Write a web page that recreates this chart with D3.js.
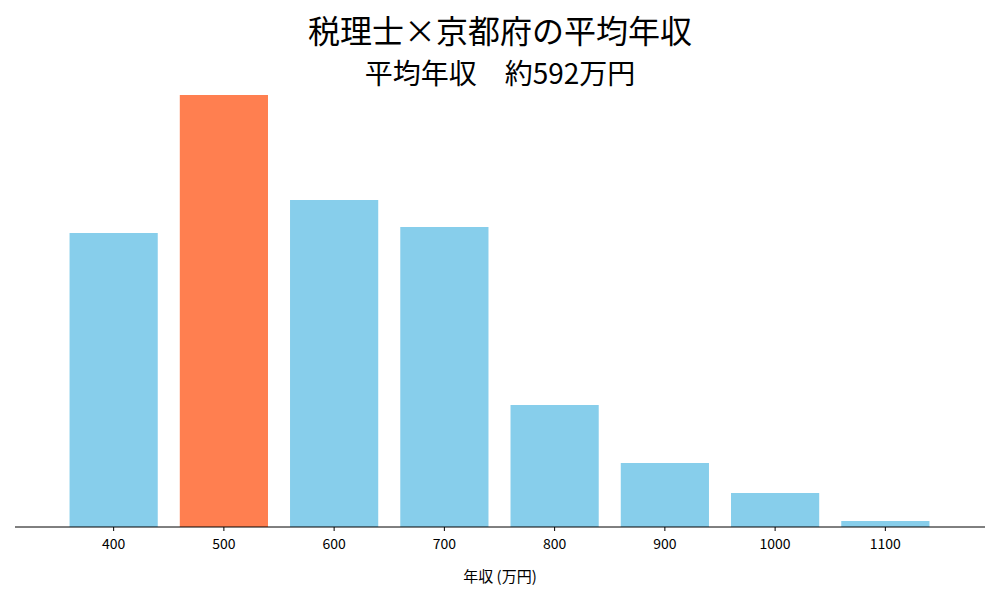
<!DOCTYPE html>
<html>
<head>
<meta charset="utf-8">
<script src="https://cdn.jsdelivr.net/npm/d3@7"></script>
<style>
  body { margin: 0; background: #fff; }
  text { font-family: "Noto Sans CJK JP", "Noto Sans", sans-serif; }
</style>
</head>
<body>
<svg id="chart" width="1000" height="600"></svg>
<script>
const categories = ["400", "500", "600", "700", "800", "900", "1000", "1100"];
const counts = [294, 432, 327, 300, 122, 64, 34, 6];
const highlight = "500";

const svg = d3.select("#chart");
const baseY = 527;

const x = d3.scaleBand()
  .domain(categories)
  .range([47.5, 951.5])
  .padding(0.2);

const y = d3.scaleLinear()
  .domain([0, d3.max(counts)])
  .range([baseY, 95]);

svg.selectAll("rect")
  .data(categories)
  .join("rect")
  .attr("x", d => x(d))
  .attr("y", (d, i) => y(counts[i]))
  .attr("width", x.bandwidth())
  .attr("height", (d, i) => baseY - y(counts[i]))
  .attr("fill", d => d === highlight ? "#ff7f50" : "#87ceeb");

const axis = svg.append("g")
  .attr("transform", `translate(0,${baseY})`)
  .call(d3.axisBottom(x).tickSizeOuter(0).tickSize(4));
axis.select(".domain").remove();
axis.selectAll("text").attr("font-size", 14).attr("fill", "#000")
  .attr("dy", "1.1em");
axis.selectAll("line").attr("stroke", "#000");
svg.append("line")
  .attr("x1", 15).attr("x2", 985)
  .attr("y1", baseY).attr("y2", baseY)
  .attr("stroke", "#000");

svg.append("text")
  .attr("x", 500).attr("y", 582)
  .attr("text-anchor", "middle")
  .attr("font-size", 15)
  .text("年収 (万円)");

svg.append("text")
  .attr("x", 500).attr("y", 43)
  .attr("text-anchor", "middle")
  .attr("font-size", 32)
  .text("税理士×京都府の平均年収");

svg.append("text")
  .attr("x", 500).attr("y", 84)
  .attr("text-anchor", "middle")
  .attr("font-size", 28)
  .attr("xml:space", "preserve")
  .text("平均年収　約592万円");
</script>
</body>
</html>
